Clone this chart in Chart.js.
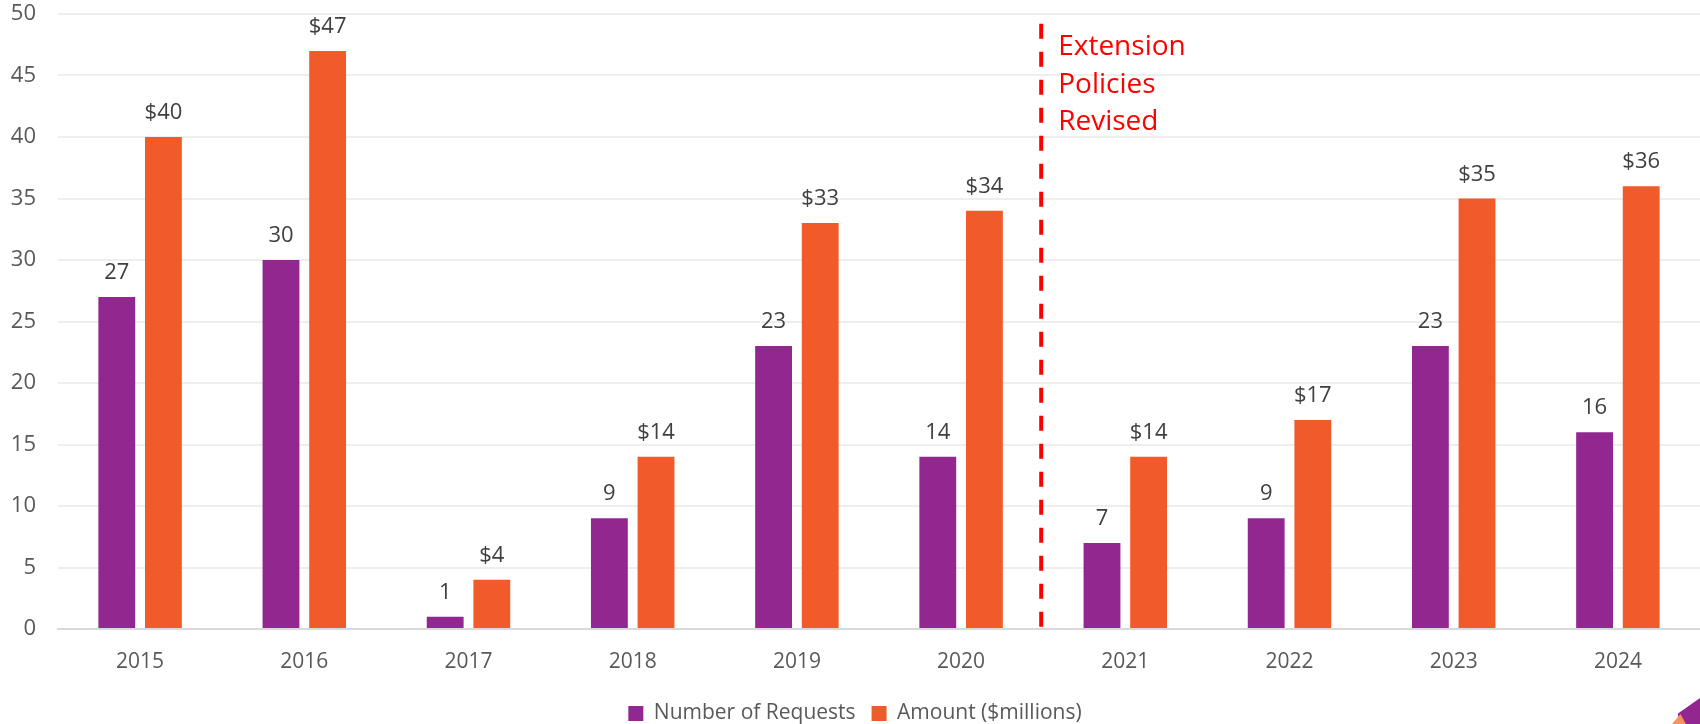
<!DOCTYPE html>
<html>
<head>
<meta charset="utf-8">
<script src="https://cdn.jsdelivr.net/npm/chart.js@4.4.1/dist/chart.umd.min.js"></script>
<style>
  html, body { margin: 0; padding: 0; background: #fff; }
  #wrap { position: relative; width: 1700px; height: 724px; overflow: hidden; }
  #chart { position: absolute; left: 0; top: 0; }
  #corner1 { position: absolute; right: 0; bottom: 0; width: 22px; height: 26px; background: #92278F; clip-path: polygon(100% 0, 100% 100%, 0 100%, 0 60%); }
  #corner2 { position: absolute; right: 14px; bottom: 0; width: 14px; height: 10px; background: #F7945D; clip-path: polygon(60% 0, 100% 100%, 0 100%); }
</style>
</head>
<body>
<div id="wrap">
  <!-- canvas is a bit taller than the page so the legend sits near the bottom edge -->
  <canvas id="chart" width="1700" height="734"></canvas>
  <div id="corner1"></div>
  <div id="corner2"></div>
</div>
<script>
// --- data ---
const years = ['2015', '2016', '2017', '2018', '2019', '2020', '2021', '2022', '2023', '2024'];
const requests = [27, 30, 1, 9, 23, 14, 7, 9, 23, 16];
const amounts = [40, 47, 4, 14, 33, 34, 14, 17, 35, 36];
const yTicks = [0, 5, 10, 15, 20, 25, 30, 35, 40, 45, 50];
const markerAfter = '2020';
const markerText = ['Extension', 'Policies', 'Revised'];

const FONT = "'Open Sans', 'Noto Sans', sans-serif";

// value labels above each bar
const barLabels = {
    id: 'barLabels',
    afterDatasetsDraw(chart) {
        const ctx = chart.ctx;
        ctx.save();
        ctx.font = `22px ${FONT}`;
        ctx.fillStyle = '#404040';
        ctx.textAlign = 'center';
        ctx.textBaseline = 'alphabetic';
        chart.data.datasets.forEach((ds, di) => {
            chart.getDatasetMeta(di).data.forEach((bar, i) => {
                const txt = (di === 1 ? '$' : '') + ds.data[i];
                ctx.fillText(txt, bar.x, bar.y - 18);
            });
        });
        ctx.restore();
    }
};

// dashed divider + note
const divider = {
    id: 'divider',
    afterDraw(chart) {
        const ctx = chart.ctx, x = chart.scales.x, y = chart.scales.y;
        const idx = years.indexOf(markerAfter);
        const px = (x.getPixelForValue(idx) + x.getPixelForValue(idx + 1)) / 2 - 2;
        ctx.save();
        ctx.strokeStyle = '#FF0000';
        ctx.lineWidth = 4;
        ctx.setLineDash([15, 13]);
        ctx.beginPath();
        ctx.moveTo(px, y.getPixelForValue(49.2));
        ctx.lineTo(px, y.getPixelForValue(0));
        ctx.stroke();
        ctx.setLineDash([]);
        ctx.fillStyle = '#FF0000';
        ctx.font = `28px ${FONT}`;
        ctx.textAlign = 'left';
        ctx.textBaseline = 'alphabetic';
        markerText.forEach((t, i) => ctx.fillText(t, px + 17, 55 + i * 37.5));
        ctx.restore();
    }
};

new Chart(document.getElementById('chart'), {
    type: 'bar',
    data: {
        labels: years,
        datasets: [
            { label: 'Number of Requests', data: requests, backgroundColor: '#92278F' },
            { label: 'Amount ($millions)', data: amounts, backgroundColor: '#F15A29' }
        ]
    },
    options: {
        responsive: false, animation: false,
        categoryPercentage: 0.568, barPercentage: 0.79,
        layout: { padding: { left: 10, right: 0, top: 0, bottom: 0 } },
        scales: {
            x: {
                grid: { display: false },
                border: { color: '#D9D9D9', width: 2 },
                ticks: { color: '#595959', font: { family: FONT, size: 21 }, padding: 12 },
                afterFit: a => { a.height = 58; }
            },
            y: {
                min: 0, max: 50,
                afterBuildTicks: axis => { axis.ticks = yTicks.map(v => ({ value: v })); },
                afterFit: a => { a.width = 48; a.paddingTop = 14; a.paddingBottom = 0; },
                grid: { color: '#EEEEEE', lineWidth: 2, drawTicks: false },
                border: { display: false },
                ticks: { color: '#595959', font: { family: FONT, size: 22 }, padding: 22 }
            }
        },
        plugins: {
            legend: {
                position: 'bottom',
                labels: { color: '#595959', font: { family: FONT, size: 21 }, boxWidth: 15, boxHeight: 15, padding: 16 }
            },
            tooltip: { enabled: false }
        }
    },
    plugins: [barLabels, divider]
});
</script>
</body>
</html>
